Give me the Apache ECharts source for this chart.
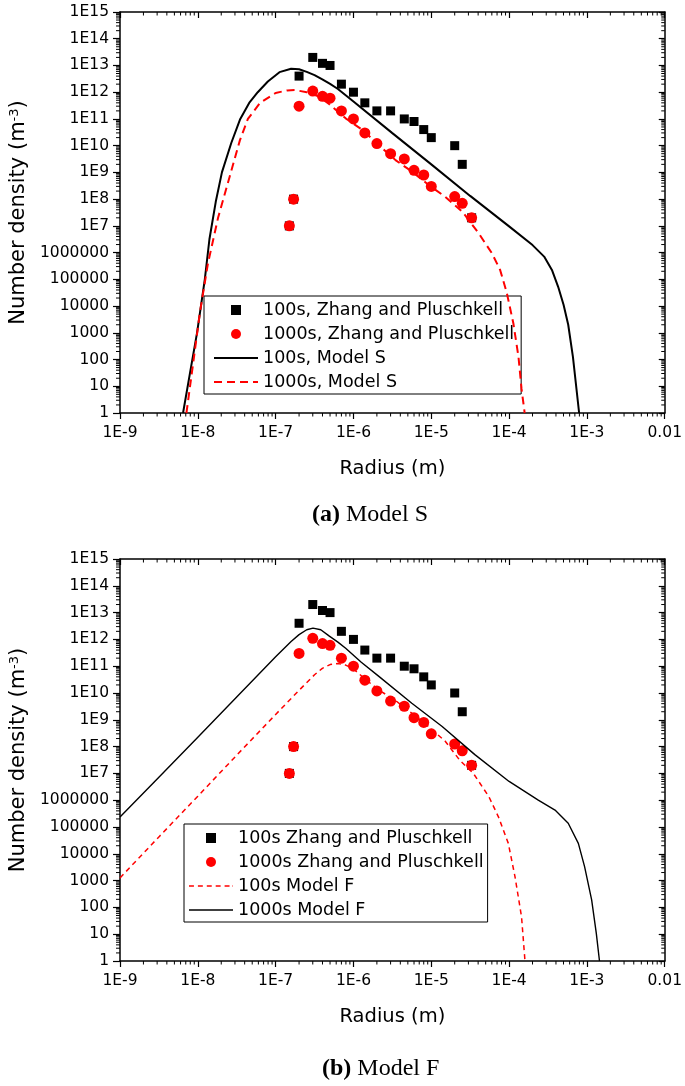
<!DOCTYPE html>
<html><head><meta charset="utf-8">
<script src="https://cdn.jsdelivr.net/npm/echarts@6/dist/echarts.min.js"></script>
<style>html,body{margin:0;padding:0;background:#fff}#c{width:685px;height:1086px}</style>
</head><body><div id="c"></div>
<script>
// ---------- data (real units: radius in m, number density in m^-3) ----------
const zpRadius = [1.5e-7, 1.7e-7, 2e-7, 3e-7, 4e-7, 5e-7, 7e-7, 1e-6, 1.4e-6, 2e-6, 3e-6, 4.5e-6, 6e-6, 8e-6, 1e-5, 2e-5, 2.5e-5, 3.3e-5];
const zp100 = [1e7, 1e8, 4e12, 2e13, 1.2e13, 1e13, 2e12, 1e12, 4e11, 2e11, 2e11, 1e11, 8e10, 4e10, 2e10, 1e10, 2e9, 2e7];
const zp1000 = [1e7, 1e8, 3e11, 1.1e12, 7e11, 6e11, 2e11, 1e11, 3e10, 1.2e10, 5e9, 3.2e9, 1.2e9, 8e8, 3e8, 1.25e8, 7e7, 2e7];

const modelS100R = [6.46e-9, 7.94e-9, 9.77e-9, 1.23e-8, 1.41e-8, 1.70e-8, 2.04e-8, 2.69e-8, 3.51e-8, 4.57e-8, 5.89e-8, 7.94e-8, 1.12e-7, 1.58e-7, 2.0e-7, 2.51e-7, 3.16e-7, 3.98e-7, 5.01e-7, 6.31e-7, 1e-6, 3.16e-6, 1e-5, 3.16e-5, 1e-4, 2.0e-4, 2.82e-4, 3.55e-4, 4.27e-4, 5.01e-4, 5.75e-4, 6.61e-4, 7.94e-4];
const modelS100N = [1, 31.6, 1000, 1e5, 3.16e6, 7.94e7, 1e9, 1.26e10, 1e11, 3.98e11, 1e12, 2.51e12, 5.62e12, 7.59e12, 7.24e12, 5.75e12, 4.37e12, 3.02e12, 2.04e12, 1.32e12, 4.47e11, 2.95e10, 2.0e9, 1.32e8, 9.55e6, 1.91e6, 7.08e5, 2.24e5, 5.25e4, 1.12e4, 2.0e3, 126, 1];

const modelS1000R = [7.14e-9, 8.71e-9, 1.06e-8, 1.35e-8, 1.82e-8, 2.57e-8, 3.47e-8, 4.40e-8, 6.31e-8, 1e-7, 1.41e-7, 1.78e-7, 2.51e-7, 3.55e-7, 4.9e-7, 7.94e-7, 1.3e-6, 2.12e-6, 3.47e-6, 5.66e-6, 9.27e-6, 1.51e-5, 2.51e-5, 4.07e-5, 6.03e-5, 7.67e-5, 9.33e-5, 1.135e-4, 1.32e-4, 1.445e-4, 1.585e-4];
const modelS1000N = [1, 72.4, 5.37e3, 3.98e5, 2.0e7, 7.08e8, 1.58e10, 1e11, 3.98e11, 9.33e11, 1.17e12, 1.2e12, 1e12, 7.08e11, 3.55e11, 1.05e11, 3.89e10, 1.05e10, 2.88e9, 1.07e9, 3.39e8, 1.23e8, 3.39e7, 5.25e6, 9.33e5, 2.24e5, 3.16e4, 2.24e3, 126, 7.94, 1];

const modelF100R = [1e-9, 3.16e-9, 1e-8, 3.16e-8, 1e-7, 2.0e-7, 3.16e-7, 3.98e-7, 5.01e-7, 6.31e-7, 7.94e-7, 1e-6, 1.41e-6, 2.12e-6, 3.47e-6, 5.66e-6, 9.27e-6, 1.51e-5, 2.34e-5, 3.47e-5, 5.5e-5, 7.29e-5, 9.77e-5, 1.19e-4, 1.445e-4, 1.6e-4];
const modelF100N = [1259, 4.27e4, 1.41e6, 4.79e7, 1.58e9, 1.26e10, 4.79e10, 8.32e10, 1.15e11, 1.26e11, 1.1e11, 7.94e10, 3.31e10, 1.29e10, 5.25e9, 1.74e9, 5.5e8, 1.58e8, 3.02e7, 1e7, 1.35e6, 2.4e5, 2.45e4, 1.41e3, 44.7, 1];

const modelF1000R = [1e-9, 3.16e-9, 1e-8, 3.16e-8, 1e-7, 1.58e-7, 2.0e-7, 2.51e-7, 3.02e-7, 3.8e-7, 4.9e-7, 6.31e-7, 7.94e-7, 1.26e-6, 2.14e-6, 5.62e-6, 1.38e-5, 3.63e-5, 1e-4, 2.37e-4, 3.89e-4, 5.75e-4, 7.76e-4, 9.33e-4, 1.15e-3, 1.32e-3, 1.45e-3];
const modelF1000N = [2.34e5, 7.24e6, 2.24e8, 7.08e9, 2.24e11, 8.32e11, 1.51e12, 2.29e12, 2.63e12, 2.29e12, 1.32e12, 7.94e11, 4.68e11, 1.41e11, 4.07e10, 4.17e9, 5.62e8, 5.01e7, 5.01e6, 1e6, 4.27e5, 1.38e5, 2.45e4, 3.31e3, 191, 10.7, 1];

const xTickLabels = ['1E-9', '1E-8', '1E-7', '1E-6', '1E-5', '1E-4', '1E-3', '0.01'];
const yTickLabels = ['1', '10', '100', '1000', '10000', '100000', '1000000', '1E7', '1E8', '1E9', '1E10', '1E11', '1E12', '1E13', '1E14', '1E15'];

// ---------- helpers ----------
const FONT = 'DejaVu Sans';
const toLog = (rs, ns) => rs.map((r, i) => [Math.log10(r), Math.log10(ns[i])]);
const xMinor = [], yMinor = [];
for (let d = -9; d < -2; d++) for (let k = 2; k <= 9; k++) xMinor.push(d + Math.log10(k));
for (let d = 0; d < 15; d++) for (let k = 2; k <= 9; k++) yMinor.push(d + Math.log10(k));

const axLine = {show: true, onZero: false, lineStyle: {color: '#000', width: 1.5}};
function xAxes(gi) {
  return [{
    gridIndex: gi, type: 'value', position: 'bottom', min: -9, max: -2, interval: 1,
    axisLine: axLine,
    axisTick: {show: true, inside: false, length: 6, lineStyle: {color: '#000', width: 1.2}},
    axisLabel: {show: true, margin: 12, color: '#000', fontFamily: FONT, fontSize: 15.5,
      showMinLabel: true, showMaxLabel: true, formatter: v => xTickLabels[Math.round(v) + 9]},
    splitLine: {show: false},
    name: 'Radius (m)', nameLocation: 'middle', nameGap: 46,
    nameTextStyle: {fontFamily: FONT, fontSize: 19.5, color: '#000'}
  }, {
    gridIndex: gi, type: 'value', position: 'top', min: -9, max: -2, interval: 1,
    axisLine: axLine,
    axisTick: {show: true, inside: true, length: 6, lineStyle: {color: '#000', width: 1.2}},
    axisLabel: {show: false}, splitLine: {show: false}
  }];
}
function yAxes(gi) {
  return [{
    gridIndex: gi, type: 'value', position: 'left', min: 0, max: 15, interval: 1,
    axisLine: axLine,
    axisTick: {show: true, inside: false, length: 7, lineStyle: {color: '#000', width: 1.2}},
    axisLabel: {show: true, margin: 11, color: '#000', fontFamily: FONT, fontSize: 15.5,
      showMinLabel: true, showMaxLabel: true, formatter: v => yTickLabels[Math.round(v)]},
    splitLine: {show: false},
    name: 'Number density (m{s|-3})', nameLocation: 'middle', nameGap: 91,
    nameTextStyle: {fontFamily: FONT, fontSize: 21, color: '#000',
      rich: {s: {fontFamily: FONT, fontSize: 13, color: '#000', verticalAlign: 'top'}}}
  }, {
    gridIndex: gi, type: 'value', position: 'right', min: 0, max: 15, interval: 1,
    axisLine: axLine,
    axisTick: {show: true, inside: true, length: 6, lineStyle: {color: '#000', width: 1.2}},
    axisLabel: {show: false}, splitLine: {show: false}
  }];
}
function tickLine(x1, y1, x2, y2) {
  return {type: 'line', shape: {x1, y1, x2, y2}, style: {stroke: '#000', lineWidth: 1}};
}
function minorTicks(gi) {
  return [{
    type: 'custom', xAxisIndex: gi * 2, yAxisIndex: gi * 2, silent: true, clip: false, z: 6,
    data: xMinor.map(v => [v, 0]),
    renderItem: (params, api) => {
      const cs = params.coordSys, px = api.coord([api.value(0), 0])[0], b = cs.y + cs.height;
      return {type: 'group', children: [tickLine(px, b, px, b + 3.5), tickLine(px, cs.y, px, cs.y + 3.5)]};
    }
  }, {
    type: 'custom', xAxisIndex: gi * 2, yAxisIndex: gi * 2, silent: true, clip: false, z: 6,
    data: yMinor.map(v => [-9, v]),
    renderItem: (params, api) => {
      const cs = params.coordSys, py = api.coord([-9, api.value(1)])[1], r = cs.x + cs.width;
      return {type: 'group', children: [tickLine(cs.x, py, cs.x - 4, py), tickLine(r, py, r - 3.5, py)]};
    }
  }];
}
function scatter(name, ns, symbol, size, color, gi) {
  return {type: 'scatter', name, xAxisIndex: gi * 2, yAxisIndex: gi * 2, symbol, symbolSize: size,
    itemStyle: {color, opacity: 1}, data: toLog(zpRadius, ns), z: 3, silent: true};
}
function line(name, rs, ns, color, width, dash, gi) {
  return {type: 'line', name, xAxisIndex: gi * 2, yAxisIndex: gi * 2, symbol: 'none', showSymbol: false,
    lineStyle: {color, width, type: dash || 'solid'}, itemStyle: {color, opacity: 1},
    smooth: false, data: toLog(rs, ns), z: 4, silent: true};
}
// legend icon shapes (drawn by the legend component)
const ICON_SQUARE = 'path://M0,0H1V1H0Z';
const ICON_SOLID = 'path://M0,0H44V2H0Z';
const ICON_DASH_S = 'path://M0,0H8V2H0Z M13,0H21V2H13Z M26,0H34V2H26Z M39,0H44V2H39Z';
const ICON_DASH_F = 'path://M0,0H5V1.6H0Z M9,0H14V1.6H9Z M18,0H23V1.6H18Z M27,0H32V1.6H27Z M36,0H41V1.6H36Z M44,0H44.5V1.6H44Z';
const ICON_SOLID_F = 'path://M0,0H44V1.4H0Z';
const legendText = {fontFamily: FONT, fontSize: 17.5, color: '#000', lineHeight: 20};

const option = {
  animation: false,
  backgroundColor: '#fff',
  grid: [
    {left: 120, top: 12, width: 547, height: 401},
    {left: 120, top: 559, width: 547, height: 402}
  ],
  xAxis: [...xAxes(0), ...xAxes(1)],
  yAxis: [...yAxes(0), ...yAxes(1)],
  title: [
    {text: '{b|(a)} Model S', left: 312, top: 503, padding: 0,
      textStyle: {fontFamily: 'Liberation Serif', fontSize: 24, fontWeight: 'normal', color: '#000',
        rich: {b: {fontFamily: 'Liberation Serif', fontSize: 24, fontWeight: 'bold', color: '#000'}}}},
    {text: '{b|(b)} Model F', left: 322, top: 1057, padding: 0,
      textStyle: {fontFamily: 'Liberation Serif', fontSize: 24, fontWeight: 'normal', color: '#000',
        rich: {b: {fontFamily: 'Liberation Serif', fontSize: 24, fontWeight: 'bold', color: '#000'}}}}
  ],
  legend: [
    {left: 204, top: 296, orient: 'vertical', itemWidth: 44, itemHeight: 10, itemGap: 4,
      padding: [4, 7, 2, 10], borderColor: '#000', borderWidth: 1, backgroundColor: '#fff',
      textStyle: legendText, selectedMode: false, symbolKeepAspect: true,
      data: [
        {name: '100s, Zhang and Pluschkell', icon: ICON_SQUARE},
        {name: '1000s, Zhang and Pluschkell', icon: 'circle'},
        {name: '100s, Model S', icon: ICON_SOLID},
        {name: '1000s, Model S', icon: ICON_DASH_S}
      ]},
    {left: 184, top: 824, orient: 'vertical', itemWidth: 44, itemHeight: 10, itemGap: 4,
      padding: [4, 4, 2, 5], borderColor: '#000', borderWidth: 1, backgroundColor: '#fff',
      textStyle: legendText, selectedMode: false, symbolKeepAspect: true,
      data: [
        {name: '100s Zhang and Pluschkell', icon: ICON_SQUARE},
        {name: '1000s Zhang and Pluschkell', icon: 'circle'},
        {name: '100s Model F', icon: ICON_DASH_F},
        {name: '1000s Model F', icon: ICON_SOLID_F}
      ]}
  ],
  series: [
    scatter('100s, Zhang and Pluschkell', zp100, 'rect', 9, '#000', 0),
    scatter('1000s, Zhang and Pluschkell', zp1000, 'circle', 11, '#ff0000', 0),
    line('100s, Model S', modelS100R, modelS100N, '#000', 2, 'solid', 0),
    line('1000s, Model S', modelS1000R, modelS1000N, '#ff0000', 2, [8, 5], 0),
    ...minorTicks(0),
    scatter('100s Zhang and Pluschkell', zp100, 'rect', 9, '#000', 1),
    scatter('1000s Zhang and Pluschkell', zp1000, 'circle', 11, '#ff0000', 1),
    line('100s Model F', modelF100R, modelF100N, '#ff0000', 1.5, [5, 4], 1),
    line('1000s Model F', modelF1000R, modelF1000N, '#000', 1.4, 'solid', 1),
    ...minorTicks(1)
  ]
};
const chart = echarts.init(document.getElementById('c'), null, {renderer: 'canvas'});
chart.setOption(option);
</script></body></html>
